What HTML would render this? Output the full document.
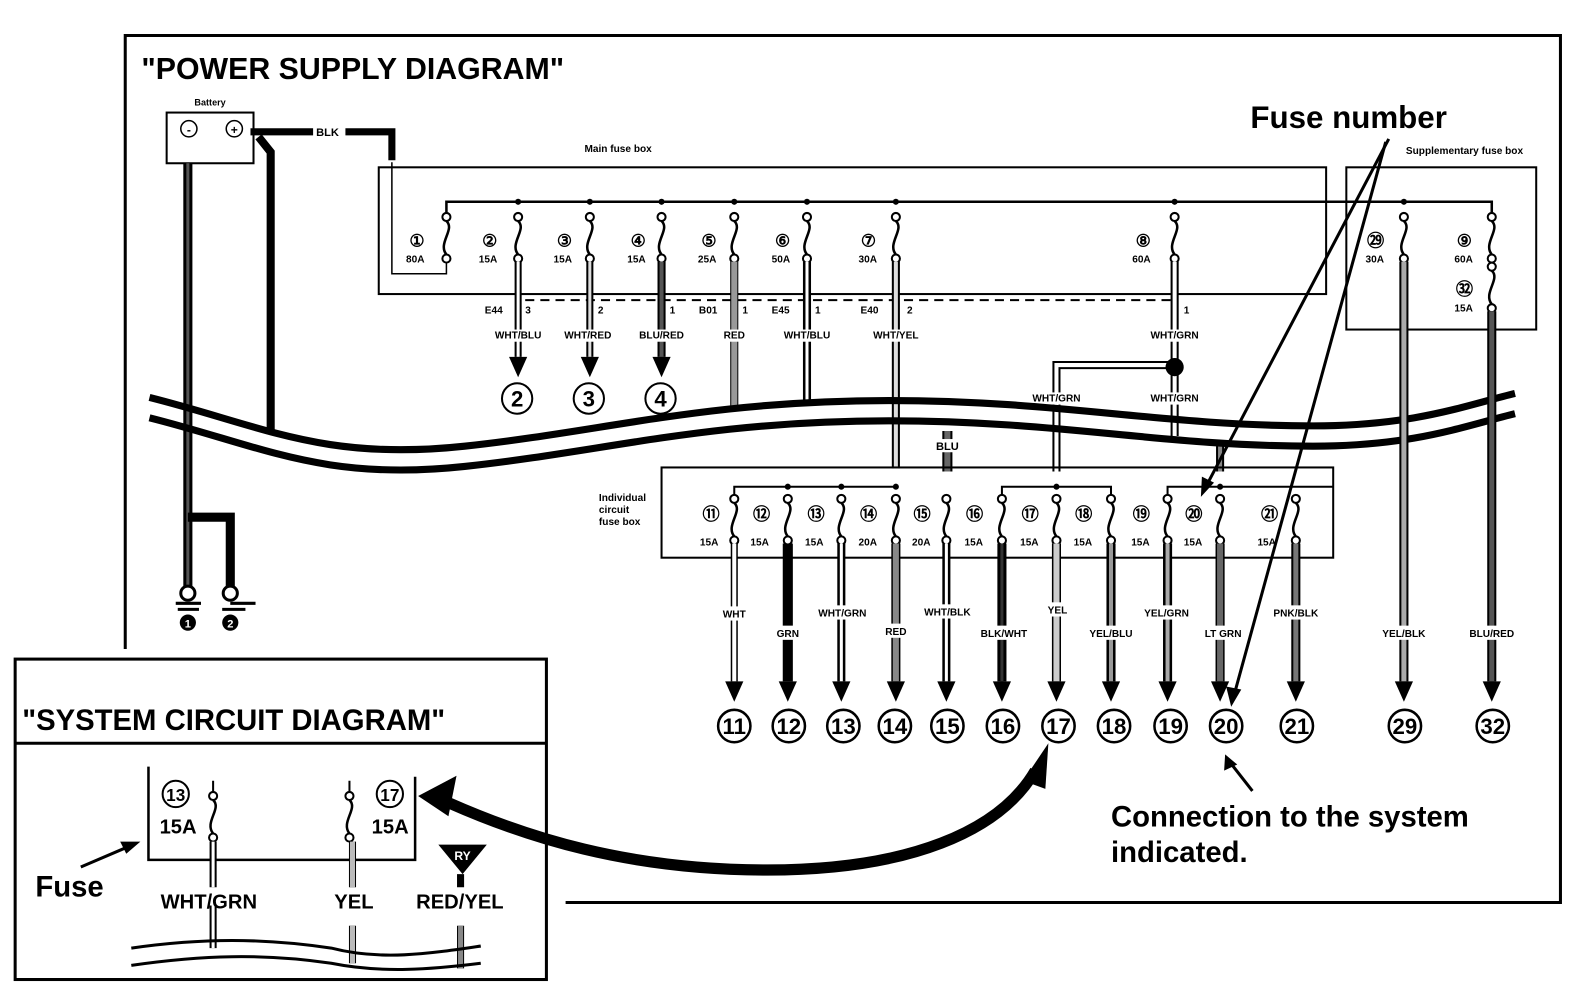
<!DOCTYPE html>
<html><head><meta charset="utf-8"><style>
html,body{margin:0;padding:0;background:#fff}
svg{display:block}
text{font-family:"Liberation Sans",Arial,sans-serif;font-weight:bold;fill:#000}
</style></head><body>
<svg width="1584" height="1008" viewBox="0 0 1584 1008" xmlns="http://www.w3.org/2000/svg">
<defs>
<g id="fz"><circle cx="0" cy="0" r="4" fill="#fff" stroke="#000" stroke-width="2"/><path d="M0,4 C9,12 -9,26 0,37" fill="none" stroke="#000" stroke-width="2.5"/><circle cx="0" cy="41" r="4" fill="#fff" stroke="#000" stroke-width="2"/></g>
<g id="ar"><polygon points="-9,0 9,0 0,20" fill="#000"/></g>
</defs>
<g transform="scale(1.01,1.014)">
<path d="M124,640 V35 H1545 V890 H560" fill="none" stroke="#000" stroke-width="3"/>
<text x="140" y="78" font-size="30">"POWER SUPPLY DIAGRAM"</text>

<text x="208" y="104" font-size="9" text-anchor="middle">Battery</text>
<rect x="165" y="111" width="86" height="50" fill="#fff" stroke="#000" stroke-width="2"/>
<circle cx="187" cy="127" r="8" fill="none" stroke="#000" stroke-width="1.5"/><text x="187" y="132" font-size="12" text-anchor="middle">-</text>
<circle cx="232" cy="127" r="8" fill="none" stroke="#000" stroke-width="1.5"/><text x="232" y="132" font-size="12" text-anchor="middle">+</text>
<path d="M248,130 H310 M342,130 H388 V158" fill="none" stroke="#000" stroke-width="7"/>
<text x="313" y="134" font-size="11">BLK</text>
<path d="M256,135 L268,150 V425" fill="none" stroke="#000" stroke-width="8"/>
<path d="M186,161 V585" stroke="#000" stroke-width="9"/><path d="M186,161 V585" stroke="#555" stroke-width="3"/>
<path d="M186,510 H228 V585" fill="none" stroke="#000" stroke-width="9"/>
<g stroke="#000" stroke-width="3" fill="#fff">
<circle cx="186" cy="585" r="7"/><circle cx="228" cy="585" r="7"/>
<path d="M174,595 H199 M176,601 H197 M228,595 H253 M220,601 H243"/>
</g>
<circle cx="186" cy="614" r="8" fill="#000"/><text x="186" y="619" font-size="11" text-anchor="middle" style="fill:#fff">1</text>
<circle cx="228" cy="614" r="8" fill="#000"/><text x="228" y="619" font-size="11" text-anchor="middle" style="fill:#fff">2</text>

<text x="612" y="150" font-size="10" text-anchor="middle">Main fuse box</text>
<rect x="375" y="165" width="938" height="125" fill="none" stroke="#000" stroke-width="2"/>
<path d="M388,160 V270 H442 V255" fill="none" stroke="#000" stroke-width="1.5"/>
<path d="M442,214 V199 H1477 V214" fill="none" stroke="#000" stroke-width="2.5"/>
<g font-size="10">
<use href="#fz" x="442" y="214"/><text x="413" y="243" font-size="17" text-anchor="middle">①</text><text x="402" y="259">80A</text>
<use href="#fz" x="513" y="214"/><text x="485" y="243" font-size="17" text-anchor="middle">②</text><text x="474" y="259">15A</text>
<use href="#fz" x="584" y="214"/><text x="559" y="243" font-size="17" text-anchor="middle">③</text><text x="548" y="259">15A</text>
<use href="#fz" x="655" y="214"/><text x="632" y="243" font-size="17" text-anchor="middle">④</text><text x="621" y="259">15A</text>
<use href="#fz" x="727" y="214"/><text x="702" y="243" font-size="17" text-anchor="middle">⑤</text><text x="691" y="259">25A</text>
<use href="#fz" x="799" y="214"/><text x="775" y="243" font-size="17" text-anchor="middle">⑥</text><text x="764" y="259">50A</text>
<use href="#fz" x="887" y="214"/><text x="860" y="243" font-size="17" text-anchor="middle">⑦</text><text x="850" y="259">30A</text>
<use href="#fz" x="1163" y="214"/><text x="1132" y="243" font-size="17" text-anchor="middle">⑧</text><text x="1121" y="259">60A</text>
</g>
<g fill="#000"><circle cx="513" cy="199" r="3"/><circle cx="584" cy="199" r="3"/><circle cx="655" cy="199" r="3"/><circle cx="727" cy="199" r="3"/><circle cx="799" cy="199" r="3"/><circle cx="887" cy="199" r="3"/><circle cx="1163" cy="199" r="3"/><circle cx="1390" cy="199" r="3"/></g>
<path d="M520,296 H1160" stroke="#000" stroke-width="2" stroke-dasharray="9,6"/>
<g>
<path d="M513,258 V352" stroke="#000" stroke-width="7"/><path d="M513,258 V352" stroke="#fff" stroke-width="3"/>
<path d="M584,258 V352" stroke="#000" stroke-width="7"/><path d="M584,258 V352" stroke="#ddd" stroke-width="3"/>
<path d="M655,258 V352" stroke="#000" stroke-width="8"/><path d="M655,258 V352" stroke="#555" stroke-width="4"/>
<path d="M727,258 V405" stroke="#000" stroke-width="8"/><path d="M727,258 V405" stroke="#999" stroke-width="6"/>
<path d="M799,258 V395" stroke="#000" stroke-width="8"/><path d="M799,258 V395" stroke="#fff" stroke-width="3"/>
<path d="M887,258 V462" stroke="#000" stroke-width="8"/><path d="M887,258 V462" stroke="#ddd" stroke-width="4"/>
<path d="M1163,258 V430" stroke="#000" stroke-width="8"/><path d="M1163,258 V430" stroke="#fff" stroke-width="4"/>
<path d="M1163,360 H1046 V465" fill="none" stroke="#000" stroke-width="8"/><path d="M1163,360 H1046 V465" fill="none" stroke="#fff" stroke-width="4"/>
<circle cx="1163" cy="362" r="9" fill="#000"/>
<path d="M938,425 V465" stroke="#000" stroke-width="10"/><path d="M938,425 V465" stroke="#666" stroke-width="6"/>
<path d="M1208,440 V465" stroke="#000" stroke-width="8"/><path d="M1208,440 V465" stroke="#888" stroke-width="4"/>
</g>
<g font-size="10">
<text x="480" y="309">E44</text><text x="520" y="309">3</text><text x="592" y="309">2</text><text x="663" y="309">1</text>
<text x="692" y="309">B01</text><text x="735" y="309">1</text><text x="764" y="309">E45</text><text x="807" y="309">1</text>
<text x="852" y="309">E40</text><text x="898" y="309">2</text><text x="1172" y="309">1</text>
</g>
<g font-size="10" text-anchor="middle">
<rect x="484" y="325" width="58" height="12" fill="#fff"/><text x="513" y="334">WHT/BLU</text>
<rect x="552" y="325" width="60" height="12" fill="#fff"/><text x="582" y="334">WHT/RED</text>
<rect x="626" y="325" width="58" height="12" fill="#fff"/><text x="655" y="334">BLU/RED</text>
<rect x="712" y="325" width="30" height="12" fill="#fff"/><text x="727" y="334">RED</text>
<rect x="770" y="325" width="58" height="12" fill="#fff"/><text x="799" y="334">WHT/BLU</text>
<rect x="858" y="325" width="58" height="12" fill="#fff"/><text x="887" y="334">WHT/YEL</text>
<rect x="1132" y="325" width="62" height="12" fill="#fff"/><text x="1163" y="334">WHT/GRN</text>
<rect x="1015" y="387" width="62" height="12" fill="#fff"/><text x="1046" y="396">WHT/GRN</text>
<rect x="1132" y="387" width="62" height="12" fill="#fff"/><text x="1163" y="396">WHT/GRN</text>
</g>
<use href="#ar" x="513" y="352"/><use href="#ar" x="584" y="352"/><use href="#ar" x="655" y="352"/>
<g fill="#fff" stroke="#000" stroke-width="2"><circle cx="512" cy="393" r="15"/><circle cx="583" cy="393" r="15"/><circle cx="654" cy="393" r="15"/></g>
<g font-size="22" font-weight="normal" text-anchor="middle"><text x="512" y="401">2</text><text x="583" y="401">3</text><text x="654" y="401">4</text></g>

<path d="M148,392 C260,420 320,455 460,440 C600,425 700,395 880,395 C1050,395 1150,420 1300,420 C1400,420 1450,400 1500,388" fill="none" stroke="#000" stroke-width="7"/>
<path d="M148,412 C260,440 320,475 460,460 C600,445 700,415 880,415 C1050,415 1150,440 1300,440 C1400,440 1450,420 1500,408" fill="none" stroke="#000" stroke-width="7"/>
<rect x="927" y="433" width="22" height="13" fill="#fff"/>
<text x="938" y="444" font-size="11" text-anchor="middle">BLU</text>

<text x="1450" y="152" font-size="10" text-anchor="middle">Supplementary fuse box</text>
<rect x="1333" y="165" width="188" height="160" fill="none" stroke="#000" stroke-width="2"/>
<use href="#fz" x="1390" y="214"/><use href="#fz" x="1477" y="214"/><use href="#fz" x="1477" y="263"/>
<g font-size="10"><text x="1362" y="243" font-size="17" text-anchor="middle">㉙</text><text x="1352" y="259">30A</text>
<text x="1450" y="243" font-size="17" text-anchor="middle">⑨</text><text x="1440" y="259">60A</text>
<text x="1450" y="291" font-size="17" text-anchor="middle">㉜</text><text x="1440" y="307">15A</text></g>
<path d="M1390,258 V672" stroke="#000" stroke-width="9"/><path d="M1390,258 V672" stroke="#aaa" stroke-width="5"/>
<path d="M1477,307 V672" stroke="#000" stroke-width="9"/><path d="M1477,307 V672" stroke="#555" stroke-width="5"/>

<text x="593" y="494" font-size="10">Individual</text><text x="593" y="506" font-size="10">circuit</text><text x="593" y="518" font-size="10">fuse box</text>
<rect x="655" y="461" width="665" height="89" fill="none" stroke="#000" stroke-width="2"/>
<path d="M727,492 V480 H887 M992,492 V480 H1100 V492 M1156,492 V480 H1320" fill="none" stroke="#000" stroke-width="2"/>
<g fill="#000"><circle cx="780" cy="480" r="3"/><circle cx="833" cy="480" r="3"/><circle cx="887" cy="480" r="3"/><circle cx="1046" cy="480" r="3"/><circle cx="1208" cy="480" r="3"/></g>
<g font-size="10">
<use href="#fz" x="727" y="492"/><use href="#fz" x="780" y="492"/><use href="#fz" x="833" y="492"/><use href="#fz" x="887" y="492"/><use href="#fz" x="937" y="492"/><use href="#fz" x="992" y="492"/><use href="#fz" x="1046" y="492"/><use href="#fz" x="1100" y="492"/><use href="#fz" x="1156" y="492"/><use href="#fz" x="1208" y="492"/><use href="#fz" x="1283" y="492"/>
<g font-size="17" text-anchor="middle"><text x="704" y="513">⑪</text><text x="754" y="513">⑫</text><text x="808" y="513">⑬</text><text x="860" y="513">⑭</text><text x="913" y="513">⑮</text><text x="965" y="513">⑯</text><text x="1020" y="513">⑰</text><text x="1073" y="513">⑱</text><text x="1130" y="513">⑲</text><text x="1182" y="513">⑳</text><text x="1257" y="513">㉑</text></g>
<text x="693" y="538">15A</text><text x="743" y="538">15A</text><text x="797" y="538">15A</text><text x="850" y="538">20A</text><text x="903" y="538">20A</text><text x="955" y="538">15A</text><text x="1010" y="538">15A</text><text x="1063" y="538">15A</text><text x="1120" y="538">15A</text><text x="1172" y="538">15A</text><text x="1245" y="538">15A</text>
</g>
<g>
<path d="M727,536 V672" stroke="#000" stroke-width="7"/><path d="M727,536 V672" stroke="#fff" stroke-width="4"/>
<path d="M780,536 V672" stroke="#000" stroke-width="10"/>
<path d="M833,536 V672" stroke="#000" stroke-width="8"/><path d="M833,536 V672" stroke="#fff" stroke-width="3"/>
<path d="M887,536 V672" stroke="#000" stroke-width="9"/><path d="M887,536 V672" stroke="#888" stroke-width="6"/>
<path d="M937,536 V672" stroke="#000" stroke-width="8"/><path d="M937,536 V672" stroke="#fff" stroke-width="3"/>
<path d="M992,536 V672" stroke="#000" stroke-width="9"/><path d="M992,536 V672" stroke="#333" stroke-width="3"/>
<path d="M1046,536 V672" stroke="#000" stroke-width="9"/><path d="M1046,536 V672" stroke="#ccc" stroke-width="6"/>
<path d="M1100,536 V672" stroke="#000" stroke-width="9"/><path d="M1100,536 V672" stroke="#999" stroke-width="4"/>
<path d="M1156,536 V672" stroke="#000" stroke-width="9"/><path d="M1156,536 V672" stroke="#aaa" stroke-width="4"/>
<path d="M1208,536 V672" stroke="#000" stroke-width="9"/><path d="M1208,536 V672" stroke="#666" stroke-width="6"/>
<path d="M1283,536 V672" stroke="#000" stroke-width="9"/><path d="M1283,536 V672" stroke="#777" stroke-width="5"/>
</g>
<g font-size="10" text-anchor="middle">
<rect x="708" y="598" width="40" height="14" fill="#fff"/><text x="727" y="609">WHT</text>
<rect x="762" y="617" width="36" height="14" fill="#fff"/><text x="780" y="628">GRN</text>
<rect x="803" y="597" width="62" height="14" fill="#fff"/><text x="834" y="608">WHT/GRN</text>
<rect x="870" y="615" width="34" height="14" fill="#fff"/><text x="887" y="626">RED</text>
<rect x="908" y="596" width="60" height="14" fill="#fff"/><text x="938" y="607">WHT/BLK</text>
<rect x="965" y="617" width="58" height="14" fill="#fff"/><text x="994" y="628">BLK/WHT</text>
<rect x="1032" y="594" width="30" height="14" fill="#fff"/><text x="1047" y="605">YEL</text>
<rect x="1073" y="617" width="56" height="14" fill="#fff"/><text x="1100" y="628">YEL/BLU</text>
<rect x="1126" y="597" width="58" height="14" fill="#fff"/><text x="1155" y="608">YEL/GRN</text>
<rect x="1186" y="617" width="50" height="14" fill="#fff"/><text x="1211" y="628">LT GRN</text>
<rect x="1254" y="597" width="58" height="14" fill="#fff"/><text x="1283" y="608">PNK/BLK</text>
<rect x="1362" y="617" width="56" height="14" fill="#fff"/><text x="1390" y="628">YEL/BLK</text>
<rect x="1448" y="617" width="58" height="14" fill="#fff"/><text x="1477" y="628">BLU/RED</text>
</g>
<g><use href="#ar" x="727" y="672"/><use href="#ar" x="780" y="672"/><use href="#ar" x="833" y="672"/><use href="#ar" x="887" y="672"/><use href="#ar" x="937" y="672"/><use href="#ar" x="992" y="672"/><use href="#ar" x="1046" y="672"/><use href="#ar" x="1100" y="672"/><use href="#ar" x="1156" y="672"/><use href="#ar" x="1208" y="672"/><use href="#ar" x="1283" y="672"/><use href="#ar" x="1390" y="672"/><use href="#ar" x="1477" y="672"/></g>
<g fill="#fff" stroke="#000" stroke-width="2.5">
<circle cx="727" cy="716" r="16"/><circle cx="781" cy="716" r="16"/><circle cx="835" cy="716" r="16"/><circle cx="886" cy="716" r="16"/><circle cx="938" cy="716" r="16"/><circle cx="993" cy="716" r="16"/><circle cx="1048" cy="716" r="16"/><circle cx="1103" cy="716" r="16"/><circle cx="1159" cy="716" r="16"/><circle cx="1214" cy="716" r="16"/><circle cx="1284" cy="716" r="16"/><circle cx="1391" cy="716" r="16"/><circle cx="1478" cy="716" r="16"/></g>
<g font-size="22" font-weight="normal" text-anchor="middle">
<text x="727" y="724">11</text><text x="781" y="724">12</text><text x="835" y="724">13</text><text x="886" y="724">14</text><text x="938" y="724">15</text><text x="993" y="724">16</text><text x="1048" y="724">17</text><text x="1103" y="724">18</text><text x="1159" y="724">19</text><text x="1214" y="724">20</text><text x="1284" y="724">21</text><text x="1391" y="724">29</text><text x="1478" y="724">32</text></g>

<text x="1238" y="126" font-size="31">Fuse number</text>
<g stroke="#000" stroke-width="3" fill="none"><path d="M1375,137 L1195,478"/><path d="M1372,140 L1222,685"/><path d="M1240,780 L1218,752"/></g>
<polygon points="1189,490 1190,470 1202,476" fill="#000"/>
<polygon points="1219,697 1214,677 1229,680" fill="#000"/>
<polygon points="1213,744 1212,760 1225,754" fill="#000"/>
<text x="1100" y="815" font-size="29">Connection to the system</text>
<text x="1100" y="850" font-size="29">indicated.</text>

<rect x="15" y="650" width="526" height="316" fill="#fff" stroke="#000" stroke-width="3"/>
<path d="M15,733 H541" stroke="#000" stroke-width="3"/>
<text x="22" y="720" font-size="29">"SYSTEM CIRCUIT DIAGRAM"</text>
<path d="M147,756 V848 H411 V766" fill="none" stroke="#000" stroke-width="2.5"/>
<use href="#fz" x="211" y="785"/><use href="#fz" x="346" y="785"/>
<path d="M211,770 V781 M346,770 V781" stroke="#000" stroke-width="2"/>
<circle cx="174" cy="783" r="13" fill="none" stroke="#000" stroke-width="2"/><text x="174" y="790" font-size="17" font-weight="normal" text-anchor="middle">13</text>
<circle cx="386" cy="783" r="13" fill="none" stroke="#000" stroke-width="2"/><text x="386" y="790" font-size="17" font-weight="normal" text-anchor="middle">17</text>
<text x="158" y="822" font-size="20" font-weight="normal">15A</text><text x="368" y="822" font-size="20" font-weight="normal">15A</text>
<path d="M211,830 V875 M211,893 V935" stroke="#000" stroke-width="7"/><path d="M211,830 V875 M211,893 V935" stroke="#fff" stroke-width="3"/>
<path d="M349,830 V875 M349,913 V950" stroke="#000" stroke-width="7"/><path d="M349,830 V875 M349,913 V950" stroke="#bbb" stroke-width="5"/>
<path d="M456,862 V875 M456,913 V955" stroke="#000" stroke-width="7"/><path d="M456,913 V955" stroke="#888" stroke-width="5"/>
<polygon points="434,833 482,833 458,862" fill="#000"/><text x="458" y="848" font-size="12" text-anchor="middle" style="fill:#fff">RY</text>
<text x="159" y="896" font-size="20" font-weight="normal">WHT/GRN</text><text x="331" y="896" font-size="20" font-weight="normal">YEL</text><text x="412" y="896" font-size="20" font-weight="normal">RED/YEL</text>
<path d="M130,935 C200,925 260,925 328,935 C378,948 428,940 476,933" fill="none" stroke="#000" stroke-width="3"/>
<path d="M130,952 C200,942 260,940 328,950 C378,960 428,956 476,950" fill="none" stroke="#000" stroke-width="3"/>
<text x="35" y="884" font-size="29">Fuse</text>
<path d="M80,855 L127,835" stroke="#000" stroke-width="3"/><polygon points="139,830 119,830 125,842" fill="#000"/>

<path d="M1025,760 C990,820 900,858 760,858 C620,858 520,825 445,792" fill="none" stroke="#000" stroke-width="11"/>
<polygon points="1038,733 1013,770 1035,778" fill="#000"/>
<polygon points="414,785 452,765 444,805" fill="#000"/>
</g>
</svg>
</body></html>
